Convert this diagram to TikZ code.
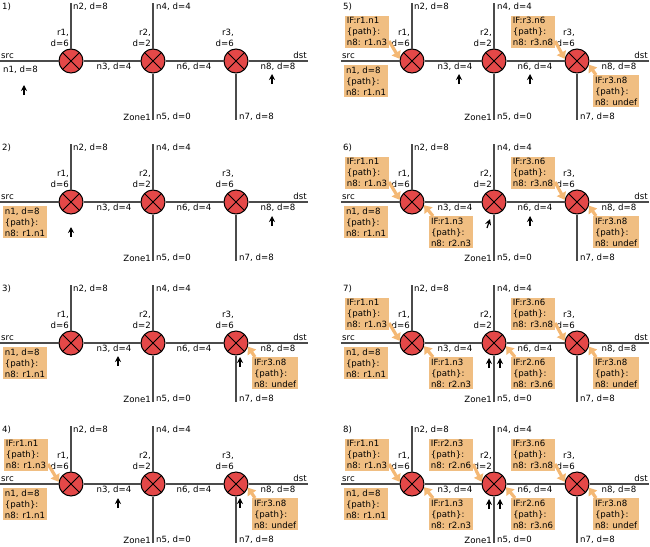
\documentclass[tikz,border=0pt]{standalone}
\usepackage{fontspec}
\setmainfont{DejaVu Sans}
\usetikzlibrary{positioning,arrows.meta}

\definecolor{routerred}{RGB}{228,72,72}
\definecolor{ifboxfill}{RGB}{240,190,130}
\definecolor{ifarrowfill}{RGB}{244,184,116}
\definecolor{wiregray}{RGB}{75,75,75}

% one panel: #1 number, #2/#3 shift, #4 what is special to it
\newcommand{\netpanel}[4]{%
  \begin{scope}[shift={(#2,#3)}]
    \node[lbl, anchor=west] (p#1tag) at (2,54) {#1)};
    \node[router] (p#1r1) at (71,0) {};
    \node[router] (p#1r2) at (153,0) {};
    \node[router] (p#1r3) at (236,0) {};
    \coordinate (p#1src) at (0,0);
    \coordinate (p#1dst) at (308,0);
    \coordinate (p#1n2) at (71,58);
    \coordinate (p#1n4) at (153,58);
    \coordinate (p#1n5) at (153,-59);
    \coordinate (p#1n7) at (236,-59);
    \draw[wire] (p#1src) -- (p#1r1) -- (p#1r2) -- (p#1r3) -- (p#1dst);
    \draw[wire] (p#1n2) -- (p#1r1);
    \draw[wire] (p#1n4) -- (p#1r2) -- (p#1n5);
    \draw[wire] (p#1r3) -- (p#1n7);
    \node[lbl, anchor=base west] (p#1srclab) at (1,2.5) {src};
    \node[lbl, anchor=base east] (p#1dstlab) at (307,2.5) {dst};
    \node[lbl, anchor=west] (p#1n2lab) at (73,54) {n2, d=8};
    \node[lbl, anchor=west] (p#1n4lab) at (156,54) {n4, d=4};
    \node[lbl, anchor=east, align=right] (p#1r1lab) at (69,23) {r1,\\d=6};
    \node[lbl, anchor=east, align=right] (p#1r2lab) at (151,23) {r2,\\d=2};
    \node[lbl, anchor=east, align=right] (p#1r3lab) at (234,23) {r3,\\d=6};
    \node[lbl] (p#1n3lab) at (114,-6) {n3, d=4};
    \node[lbl] (p#1n6lab) at (194,-6) {n6, d=4};
    \node[lbl] (p#1n8lab) at (278,-6) {n8, d=8};
    \node[lbl, anchor=east] (p#1zone) at (151,-56) {Zone1};
    \node[lbl, anchor=west] (p#1n5lab) at (156,-56) {n5, d=0};
    \node[lbl, anchor=west] (p#1n7lab) at (239,-56) {n7, d=8};
    #4
  \end{scope}}

\begin{document}
\begin{tikzpicture}[
    x=1pt, y=1pt,
    lbl/.style={font=\fontsize{8.6}{11}\selectfont, inner sep=0pt},
    router/.style={circle, draw=black, line width=1pt, fill=routerred,
        minimum size=24pt, inner sep=0pt,
        path picture={\draw[line width=1pt]
            (path picture bounding box.north west) -- (path picture bounding box.south east)
            (path picture bounding box.north east) -- (path picture bounding box.south west);}},
    wire/.style={draw=wiregray, line width=1.5pt},
    ifbox/.style={fill=ifboxfill, font=\fontsize{8.6}{11}\selectfont,
        inner sep=1.8pt, align=left},
    ifarrow/.style={draw=ifarrowfill, line width=3.2pt,
        -{Triangle[width=10pt,length=7pt]}},
    pkt/.style={draw=black, line width=1.2pt, -{Stealth[width=6pt,length=6pt]}}
]
    \useasboundingbox (0,0) rectangle (650,-546);

    % left column
    \netpanel{1}{0}{-61}{
        \node[lbl, anchor=west] (p1n1lab) at (3,-9) {n1, d=8};
        \draw[pkt] (24,-34) -- ++(0,10);
        \draw[pkt] (272,-23) -- ++(0,10);
    }
    \netpanel{2}{0}{-202}{
        \node[ifbox, anchor=north west] (p2n1) at (3,-4) {n1, d=8\\\{path\}:\\n8: r1.n1};
        \draw[pkt] (71,-35) -- ++(0,10);
        \draw[pkt] (272,-24) -- ++(0,10);
    }
    \netpanel{3}{0}{-343}{
        \node[ifbox, anchor=north west] (p3n1) at (3,-4) {n1, d=8\\\{path\}:\\n8: r1.n1};
        \node[ifbox, below right=14pt and 16pt of p3r3.center] (p3if3b) {IF:r3.n8\\\{path\}:\\n8: undef};
        \draw[ifarrow] ([xshift=3pt]p3if3b.north west) -- (p3r3.-17);
        \draw[pkt] (118,-23) -- ++(0,10);
        \draw[pkt] (240,-24) -- ++(0,10);
    }
    \netpanel{4}{0}{-484}{
        \node[ifbox, anchor=north west] (p4n1) at (3,-4) {n1, d=8\\\{path\}:\\n8: r1.n1};
        \node[ifbox, above left=13pt and 23pt of p4r1.center] (p4if1a) {IF:r1.n1\\\{path\}:\\n8: r1.n3};
        \node[ifbox, below right=14pt and 16pt of p4r3.center] (p4if3b) {IF:r3.n8\\\{path\}:\\n8: undef};
        \draw[ifarrow] ([yshift=7pt]p4if1a.south east) -- (p4r1.170);
        \draw[ifarrow] ([xshift=3pt]p4if3b.north west) -- (p4r3.-17);
        \draw[pkt] (118,-24) -- ++(0,10);
        \draw[pkt] (240,-24) -- ++(0,10);
    }

    % right column
    \netpanel{5}{341}{-61}{
        \node[ifbox, anchor=north west] (p5n1) at (3,-4) {n1, d=8\\\{path\}:\\n8: r1.n1};
        \node[ifbox, above left=13pt and 23pt of p5r1.center] (p5if1a) {IF:r1.n1\\\{path\}:\\n8: r1.n3};
        \node[ifbox, above left=13pt and 22pt of p5r3.center] (p5if3a) {IF:r3.n6\\\{path\}:\\n8: r3.n8};
        \node[ifbox, below right=14pt and 16pt of p5r3.center] (p5if3b) {IF:r3.n8\\\{path\}:\\n8: undef};
        \draw[ifarrow] ([yshift=7pt]p5if1a.south east) -- (p5r1.170);
        \draw[ifarrow] ([yshift=7pt]p5if3a.south east) -- (p5r3.170);
        \draw[ifarrow] ([xshift=3pt]p5if3b.north west) -- (p5r3.-17);
        \draw[pkt] (118,-23) -- ++(0,10);
        \draw[pkt] (189,-23) -- ++(0,10);
    }
    \netpanel{6}{341}{-202}{
        \node[ifbox, anchor=north west] (p6n1) at (3,-4) {n1, d=8\\\{path\}:\\n8: r1.n1};
        \node[ifbox, above left=13pt and 23pt of p6r1.center] (p6if1a) {IF:r1.n1\\\{path\}:\\n8: r1.n3};
        \node[ifbox, below right=14pt and 17pt of p6r1.center] (p6if1b) {IF:r1.n3\\\{path\}:\\n8: r2.n3};
        \node[ifbox, above left=13pt and 22pt of p6r3.center] (p6if3a) {IF:r3.n6\\\{path\}:\\n8: r3.n8};
        \node[ifbox, below right=14pt and 16pt of p6r3.center] (p6if3b) {IF:r3.n8\\\{path\}:\\n8: undef};
        \draw[ifarrow] ([yshift=7pt]p6if1a.south east) -- (p6r1.170);
        \draw[ifarrow] ([xshift=4pt]p6if1b.north west) -- (p6r1.-15);
        \draw[ifarrow] ([yshift=7pt]p6if3a.south east) -- (p6r3.170);
        \draw[ifarrow] ([xshift=3pt]p6if3b.north west) -- (p6r3.-17);
        \draw[pkt] (146,-26) -- ++(3,9);
        \draw[pkt] (189,-24) -- ++(0,10);
    }
    \netpanel{7}{341}{-343}{
        \node[ifbox, anchor=north west] (p7n1) at (3,-4) {n1, d=8\\\{path\}:\\n8: r1.n1};
        \node[ifbox, above left=13pt and 23pt of p7r1.center] (p7if1a) {IF:r1.n1\\\{path\}:\\n8: r1.n3};
        \node[ifbox, below right=14pt and 17pt of p7r1.center] (p7if1b) {IF:r1.n3\\\{path\}:\\n8: r2.n3};
        \node[ifbox, below right=14pt and 17pt of p7r2.center] (p7if2b) {IF:r2.n6\\\{path\}:\\n8: r3.n6};
        \node[ifbox, above left=13pt and 22pt of p7r3.center] (p7if3a) {IF:r3.n6\\\{path\}:\\n8: r3.n8};
        \node[ifbox, below right=14pt and 16pt of p7r3.center] (p7if3b) {IF:r3.n8\\\{path\}:\\n8: undef};
        \draw[ifarrow] ([yshift=7pt]p7if1a.south east) -- (p7r1.170);
        \draw[ifarrow] ([xshift=4pt]p7if1b.north west) -- (p7r1.-15);
        \draw[ifarrow] ([xshift=4pt]p7if2b.north west) -- (p7r2.-15);
        \draw[ifarrow] ([yshift=7pt]p7if3a.south east) -- (p7r3.170);
        \draw[ifarrow] ([xshift=3pt]p7if3b.north west) -- (p7r3.-17);
        \draw[pkt] (148,-25) -- ++(0,10);
        \draw[pkt] (159,-25) -- ++(0,10);
    }
    \netpanel{8}{341}{-484}{
        \node[ifbox, anchor=north west] (p8n1) at (3,-4) {n1, d=8\\\{path\}:\\n8: r1.n1};
        \node[ifbox, above left=13pt and 23pt of p8r1.center] (p8if1a) {IF:r1.n1\\\{path\}:\\n8: r1.n3};
        \node[ifbox, below right=14pt and 17pt of p8r1.center] (p8if1b) {IF:r1.n3\\\{path\}:\\n8: r2.n3};
        \node[ifbox, above left=13pt and 21pt of p8r2.center] (p8if2a) {IF:r2.n3\\\{path\}:\\n8: r2.n6};
        \node[ifbox, below right=14pt and 17pt of p8r2.center] (p8if2b) {IF:r2.n6\\\{path\}:\\n8: r3.n6};
        \node[ifbox, above left=13pt and 22pt of p8r3.center] (p8if3a) {IF:r3.n6\\\{path\}:\\n8: r3.n8};
        \node[ifbox, below right=14pt and 16pt of p8r3.center] (p8if3b) {IF:r3.n8\\\{path\}:\\n8: undef};
        \draw[ifarrow] ([yshift=7pt]p8if1a.south east) -- (p8r1.170);
        \draw[ifarrow] ([xshift=4pt]p8if1b.north west) -- (p8r1.-15);
        \draw[ifarrow] ([yshift=7pt]p8if2a.south east) -- (p8r2.170);
        \draw[ifarrow] ([xshift=4pt]p8if2b.north west) -- (p8r2.-15);
        \draw[ifarrow] ([yshift=7pt]p8if3a.south east) -- (p8r3.170);
        \draw[ifarrow] ([xshift=3pt]p8if3b.north west) -- (p8r3.-17);
        \draw[pkt] (148,-25) -- ++(0,10);
        \draw[pkt] (159,-25) -- ++(0,10);
    }
\end{tikzpicture}
\end{document}
